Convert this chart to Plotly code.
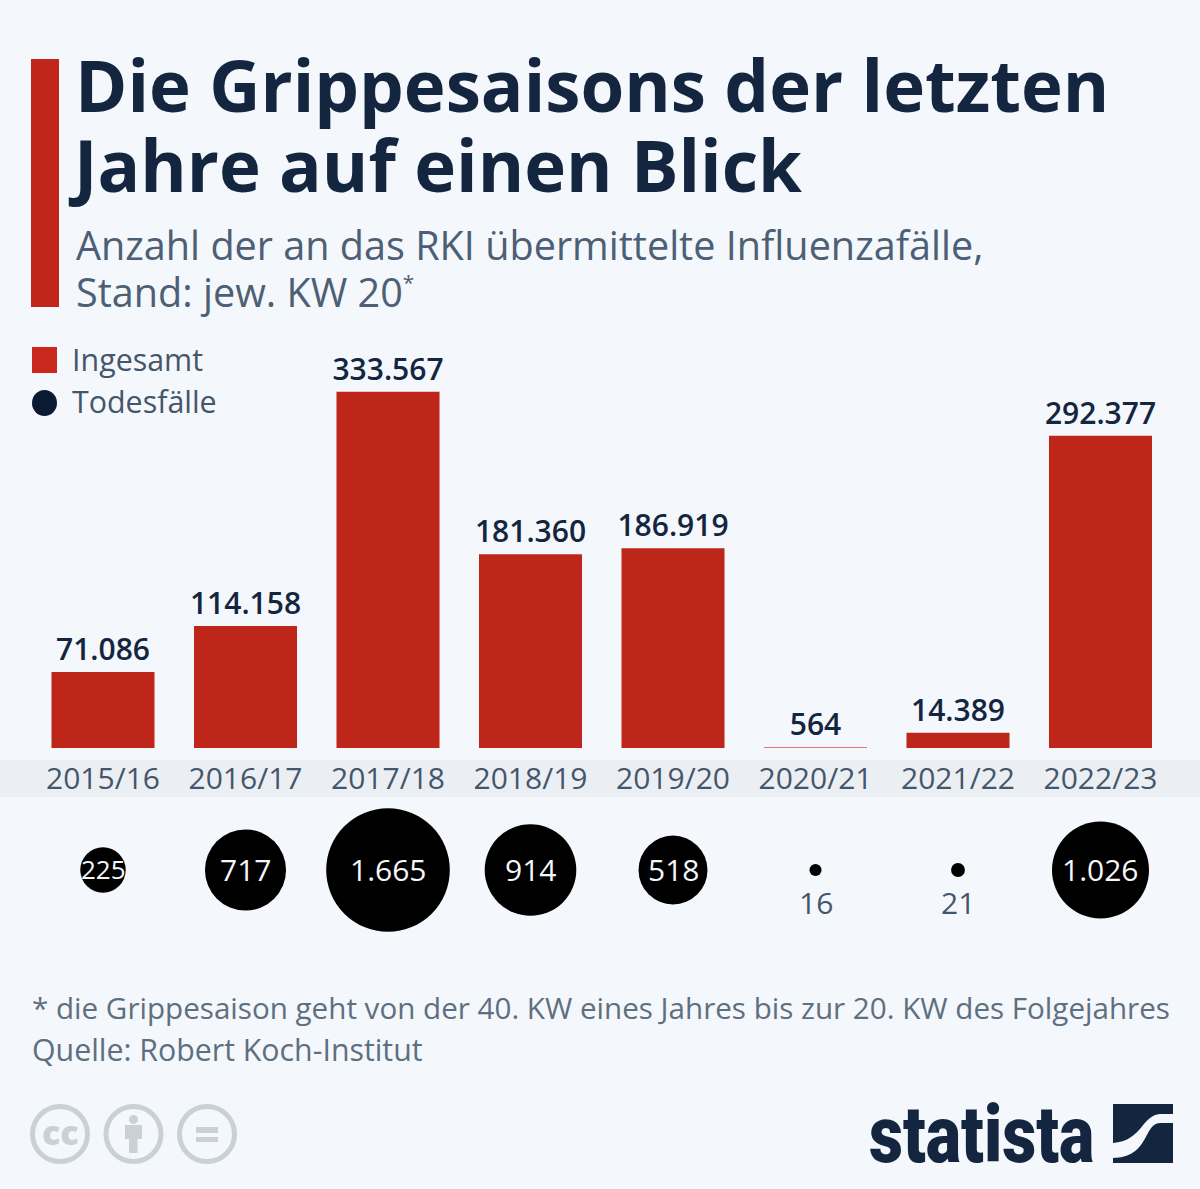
import plotly.graph_objects as go

seasons = ["2015/16", "2016/17", "2017/18", "2018/19", "2019/20", "2020/21", "2021/22", "2022/23"]
total_cases = [71086, 114158, 333567, 181360, 186919, 564, 14389, 292377]
deaths = [225, 717, 1665, 914, 518, 16, 21, 1026]

W, H = 1200, 1189
FONT = "Open Sans"
RED = "#bd2619"
THIN_RED = "#f0707a"
NAVY = "#14263f"
SLATE = "#44566c"
GREY = "#5e6f80"
BG = "#f4f7fb"
ICON = "#c9d1d7"


def px(x):
    return x / W


def py(y):
    return 1 - y / H


def fmt(v):
    return f"{v:,}".replace(",", ".")


fig = go.Figure()
fig.add_trace(go.Bar(
    x=seasons, y=total_cases, name="Ingesamt",
    marker=dict(color=[RED if v >= 1000 else THIN_RED for v in total_cases], line=dict(width=0)),
    text=[fmt(v) for v in total_cases], textposition="outside", cliponaxis=False, constraintext="none",
    textfont=dict(family=FONT, size=30, color=NAVY, weight=600), hoverinfo="x+y",
))
fig.add_trace(go.Scatter(
    x=seasons, y=[0] * len(seasons), yaxis="y2", name="Todesfälle", mode="markers",
    marker=dict(size=deaths, sizemode="area", sizeref=0.218, color="#000000", line_width=0, opacity=1),
    cliponaxis=False,
))

shape_list = [
    dict(type="rect", xref="paper", yref="paper", x0=0, x1=1, y0=py(797), y1=py(760),
         fillcolor="#ebeff3", line_width=0, layer="below"),
    dict(type="rect", xref="paper", yref="paper", x0=px(31), x1=px(59), y0=py(307), y1=py(59),
         fillcolor="#c0271a", line_width=0),
    dict(type="rect", xref="paper", yref="paper", x0=px(32), x1=px(57), y0=py(373), y1=py(347),
         fillcolor="#c9281c", line_width=0),
    dict(type="circle", xref="paper", yref="paper", x0=px(32), x1=px(57), y0=py(416), y1=py(390),
         fillcolor="#0b1a33", line_width=0),
]
# Licence icons
for cx in (60, 133.5, 207):
    shape_list.append(dict(type="circle", xref="paper", yref="paper", x0=px(cx - 27.5), x1=px(cx + 27.5),
                           y0=py(1161.5), y1=py(1106.5), line=dict(color=ICON, width=5)))
shape_list += [
    dict(type="circle", xref="paper", yref="paper", x0=px(129), x1=px(138), y0=py(1124), y1=py(1115),
         fillcolor=ICON, line_width=0),
    dict(type="path", xref="paper", yref="paper", fillcolor=ICON, line_width=0,
         path=" ".join(f"{'M' if i == 0 else 'L'}{px(a)},{py(b)}" for i, (a, b) in enumerate(
             [(125, 1125), (142, 1125), (142, 1139), (137.5, 1139), (137.5, 1153), (129, 1153), (129, 1139), (125, 1139)])) + " Z"),
    dict(type="rect", xref="paper", yref="paper", x0=px(196), x1=px(218), y0=py(1133), y1=py(1127),
         fillcolor=ICON, line_width=0),
    dict(type="rect", xref="paper", yref="paper", x0=px(196), x1=px(218), y0=py(1142), y1=py(1137),
         fillcolor=ICON, line_width=0),
]


def P(x, y):
    return f"{px(x)},{py(y)}"


# Statista mark
shape_list += [
    dict(type="path", xref="paper", yref="paper", fillcolor=NAVY, line_width=0,
         path=f"M{P(1113,1104)} L{P(1173,1104)} L{P(1173,1114)} L{P(1160,1114)} "
              f"C{P(1142,1115)} {P(1142,1141)} {P(1113,1143)} Z"),
    dict(type="path", xref="paper", yref="paper", fillcolor=NAVY, line_width=0,
         path=f"M{P(1173,1123)} L{P(1173,1163)} L{P(1113,1163)} L{P(1113,1158)} "
              f"C{P(1150,1157)} {P(1143,1124)} {P(1160,1123)} Z"),
]


def note(text, x, y, size, color, anchor="left", **kw):
    return dict(text=text, x=px(x), y=py(y), xref="paper", yref="paper", xanchor=anchor, yanchor="middle",
                showarrow=False, align="left", font=dict(family=kw.pop("family", FONT), size=size, color=color, **kw))


ann = [
    note("Jahre auf einen Blick", 66, 164, 70.8, NAVY, weight=700),
    note("Anzahl der an das RKI übermittelte Influenzafälle,", 74, 245, 39.6, "#4d5f75"),
    note('Stand: jew. KW 20<sup><span style="font-size:75%">*</span></sup>', 74, 292, 39.6, "#4d5f75"),
    note("Ingesamt", 70, 360, 30.4, SLATE),
    note("Todesfälle", 70, 402, 30.4, SLATE),
    note("* die Grippesaison geht von der 40. KW eines Jahres bis zur 20. KW des Folgejahres", 30, 1007, 29.6, GREY),
    note("Quelle: Robert Koch-Institut", 30, 1049, 30.3, GREY),
    note("cc", 60, 1132, 34, ICON, anchor="center", weight=800),
    note("statista", 867, 1135, 80, NAVY, family="Roboto", weight=900),
]
for s, d in zip(seasons, deaths):
    big = d >= 100
    ann.append(dict(text=fmt(d), x=s, y=0, xref="x", yref="y2", yshift=1 if big else -32, showarrow=False,
                    font=dict(family=FONT, size=(30 if d >= 300 else 26) if big else 30,
                              color="#f4f7fb" if big else SLATE)))

fig.update_layout(
    width=W, height=H, margin=dict(l=0, r=0, t=0, b=0), autosize=False,
    paper_bgcolor=BG, plot_bgcolor="rgba(0,0,0,0)", showlegend=False, bargap=0.277,
    title=dict(text="Die Grippesaisons der letzten", x=px(75), xanchor="left",
               y=py(87), yanchor="middle", xref="paper", yref="paper",
               font=dict(family=FONT, size=70.8, color=NAVY, weight=700)),
    xaxis=dict(domain=[px(31.75), px(1171.75)], type="category", range=[-0.5, 7.5], showgrid=False, showline=False,
               zeroline=False, ticks="", ticklabelstandoff=10, tickfont=dict(family=FONT, size=30, color=SLATE),
               categoryorder="array", categoryarray=seasons),
    yaxis=dict(domain=[py(748), py(340)], range=[0, 382000], visible=False, fixedrange=True),
    yaxis2=dict(domain=[py(940), py(800)], range=[-1, 1], visible=False, fixedrange=True),
    shapes=shape_list, annotations=ann,
)
post = """
document.body.style.margin='0';document.body.style.background='#f4f7fb';
document.querySelectorAll('.annotation-text').forEach(function(t){
  if(t.textContent==='statista'){
    t.style.transformBox='fill-box';t.style.transformOrigin='0 50%';t.style.transform='scaleX(0.83)';
  }
});
"""
fig.write_html("out.html", config={"displayModeBar": False}, post_script=post)
